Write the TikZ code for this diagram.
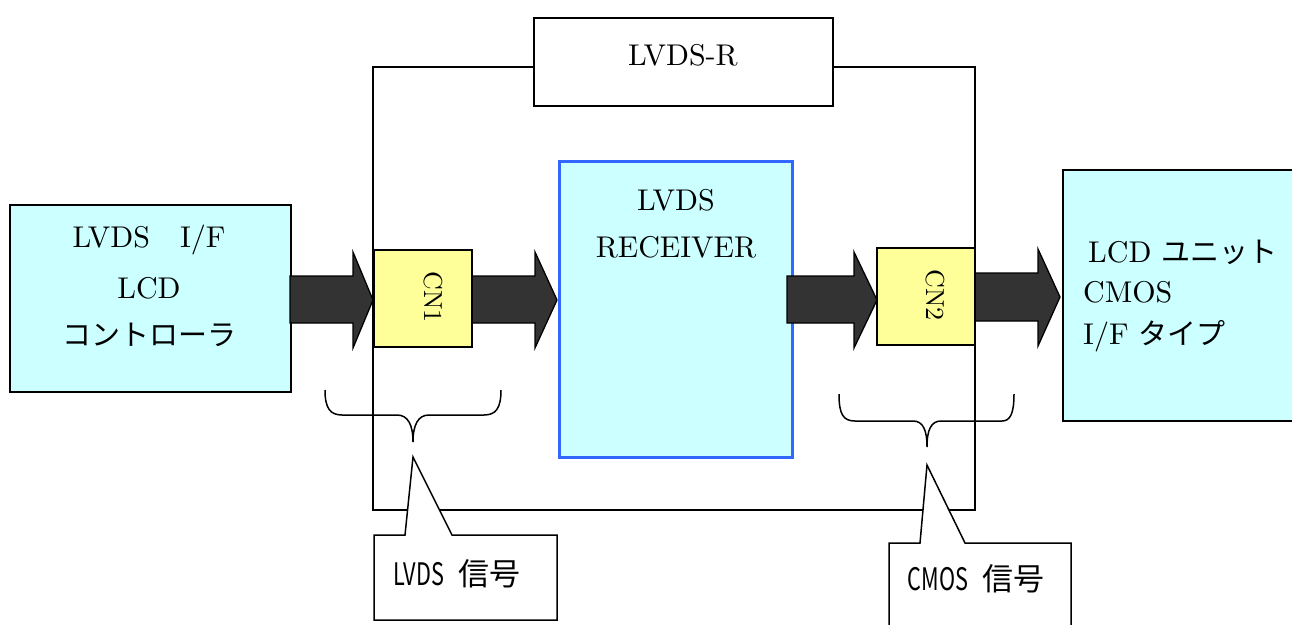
\documentclass[tikz,border=0pt]{standalone}
\usepackage{fontspec}
\usepackage{graphicx}
\setmainfont{lmroman10-regular.otf}
\newfontfamily\jp{Noto Sans CJK JP}
\newcommand\jps{\jp\fontsize{29}{34}\selectfont}
\definecolor{lcyan}{HTML}{CCFFFF}
\definecolor{lyel}{HTML}{FFFF99}
\definecolor{rblue}{HTML}{3366FF}
\definecolor{adark}{HTML}{333333}
\newcommand{\barrow}[8]{\draw[blk] (#1,#4) -- (#2,#4) -- (#2,#6) -- (#3,#8) -- (#2,#7) -- (#2,#5) -- (#1,#5) -- cycle;}
\begin{document}
\begin{tikzpicture}[x=1pt,y=-1pt,
  box/.style={draw=black, line width=1.5pt, inner sep=0pt, anchor=north west},
  blk/.style={fill=adark, draw=black, line width=1.3pt, line join=miter},
  txt/.style={font=\fontsize{30}{35}\selectfont, inner sep=0pt},
  cntxt/.style={font=\fontsize{26}{30}\selectfont, inner sep=0pt, rotate=-90},
  jtxt/.style={font=\jps, inner sep=0pt},
  ctxt/.style={font=\jp\fontsize{31}{36}\selectfont, inner sep=0pt},
  brace/.style={draw=black, line width=1.5pt},
  callout/.style={draw=black, fill=white, line width=1.5pt, line join=miter}]
\clip (0,0) rectangle (1292,624);
% outer LVDS-R frame and its label
\node[box, minimum width=602pt, minimum height=443pt] (outer) at (372,66) {};
\node[box, fill=white, minimum width=299pt, minimum height=88pt] (lbl) at (533,17) {};
\node[txt] (lbltxt) at (683,55) {LVDS-R};
% LCD controller
\node[box, fill=lcyan, minimum width=281pt, minimum height=187pt] (ctrl) at (9,204) {};
\node[txt] (ctrl1) at (149,240) {LVDS\hspace{1em}I/F};
\node[txt] (ctrl2) at (149,288) {LCD};
\node[jtxt] (ctrl3) at (149,335) {コントローラ};
% receiver
\node[draw=rblue, line width=2.6pt, fill=lcyan, inner sep=0pt, anchor=north west, minimum width=233pt, minimum height=296pt] (rx) at (558,160) {};
\node[txt] (rx1) at (676,200) {LVDS};
\node[txt] (rx2) at (676,247) {RECEIVER};
% LCD unit
\node[box, fill=lcyan, minimum width=250pt, minimum height=251pt] (lcd) at (1062,169) {};
\node[txt, anchor=west] (lcd1) at (1088,252) {LCD {\jps ユニット}};
\node[txt, anchor=west] (lcd2) at (1083,292) {CMOS};
\node[txt, anchor=west] (lcd3) at (1083,336) {I/F {\jps タイプ}};
% block arrows
\barrow{290}{353}{373}{276}{323}{252}{348}{300}
\barrow{472}{535}{557}{276}{323}{252}{348}{300}
\barrow{787}{854}{877}{276}{323}{252}{348}{300}
\barrow{974}{1038}{1060}{273}{321}{249}{346}{297}
% connectors
\node[box, fill=lyel, minimum width=98pt, minimum height=97pt] (cn1) at (373,249) {};
\node[cntxt] (cn1t) at (433,297) {CN1};
\node[box, fill=lyel, minimum width=98pt, minimum height=97pt] (cn2) at (876,247) {};
\node[cntxt] (cn2t) at (935,295) {CN2};
% braces
\draw[brace] (325,390) .. controls (325,408) and (330,415) .. (342,415) -- (397,415)
  .. controls (408,415) and (413,425) .. (413,442)
  .. controls (413,425) and (418,415) .. (429,415) -- (484,415)
  .. controls (496,415) and (501,408) .. (501,390);
\draw[brace] (839,394) .. controls (839,414) and (843,421) .. (855,421) -- (913,421)
  .. controls (923,421) and (927,430) .. (927,447)
  .. controls (927,430) and (931,421) .. (941,421) -- (1002,421)
  .. controls (1010,421) and (1014,414) .. (1014,394);
% callouts
\draw[callout] (374,535) -- (405,535) -- (413,457) -- (452,535) -- (557,535) -- (557,620) -- (374,620) -- cycle;
\node[ctxt] (sig1) at (457,574) {\scalebox{0.7}[1]{LVDS}\hspace{0.45em}信号};
\draw[callout] (889,543) -- (920,543) -- (927,465) -- (965,543) -- (1071,543) -- (1071,640) -- (889,640) -- cycle;
\node[ctxt] (sig2) at (976,579) {\scalebox{0.7}[1]{CMOS}\hspace{0.45em}信号};
\end{tikzpicture}
\end{document}
